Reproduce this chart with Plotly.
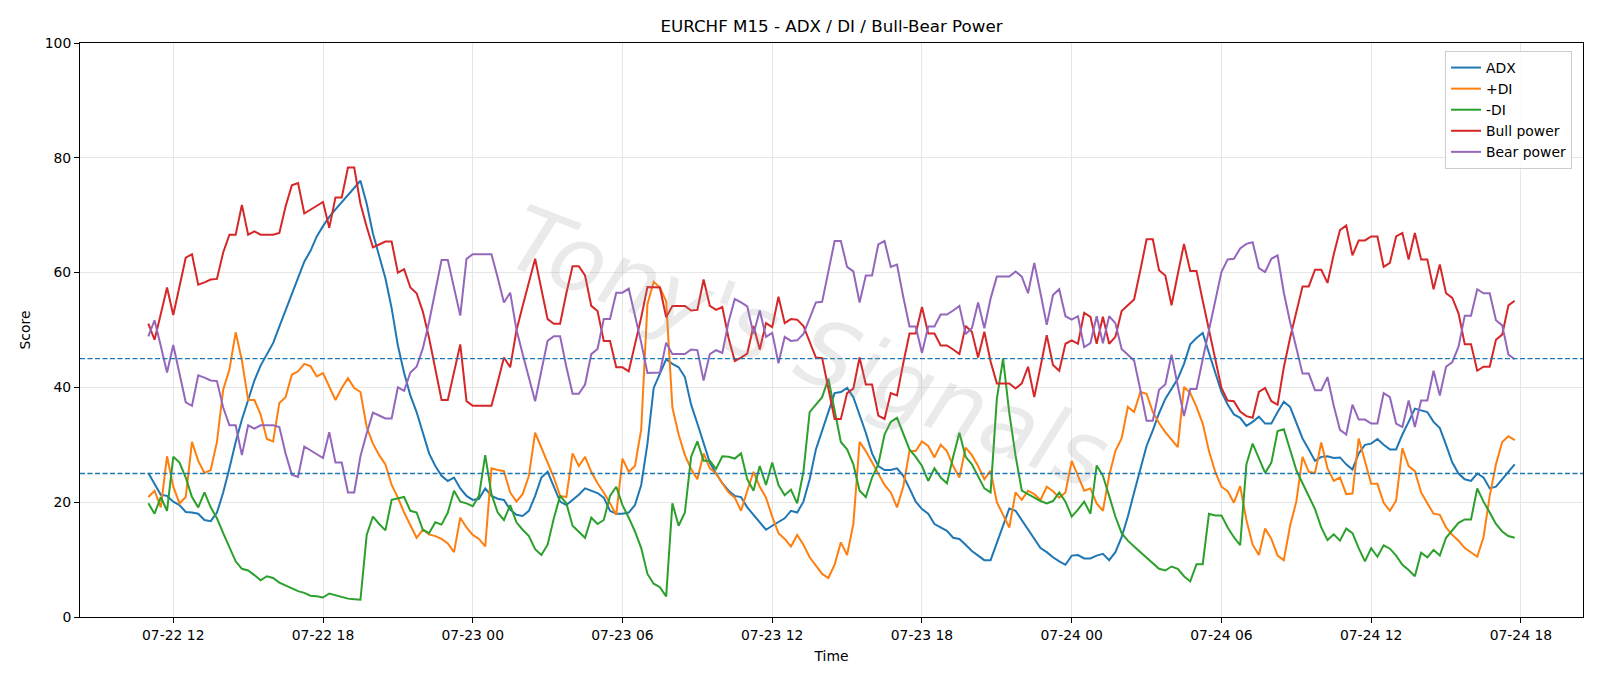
import pandas as pd
import plotly.graph_objects as go

# ---- time axis (M15 bars) ----
START = "2025-07-22 11:00"
N_BARS = 220
times = pd.date_range(START, periods=N_BARS, freq="15min")

# ---- series values ----
adx = [
    25.1, 23.3, 21.3, 21.1, 20.1, 19.5, 18.3, 18.2, 18.0, 16.9, 16.7, 18.2, 21.7, 25.9, 30.5, 34.4, 37.9, 41.2, 43.8, 45.7, 47.7, 50.6, 53.5, 56.4, 59.3, 61.9, 63.8, 66.3,
    68.1, 69.7, 71.0, 72.3, 73.6, 74.9, 76.0, 72.0, 66.8, 62.9, 59.0, 53.8, 47.3, 42.5, 38.6, 35.7, 32.1, 28.5, 26.3, 24.6, 23.7, 24.3, 22.4, 21.1, 20.4, 20.6, 22.4,
    21.1, 20.6, 20.4, 18.7, 17.8, 17.6, 18.5, 21.1, 24.3, 25.3, 22.7, 20.1, 19.5, 20.4, 21.3, 22.4, 22.0, 21.6, 20.8, 18.5, 18.0, 18.0, 18.2, 19.5, 23.0, 30.2, 39.9,
    42.5, 44.9, 44.1, 43.5, 41.8, 37.0, 33.7, 30.2, 26.9, 25.0, 23.3, 22.0, 21.1, 20.9, 19.1, 17.8, 16.5, 15.2, 15.9, 16.5, 17.2, 18.5, 18.2, 20.1, 24.0, 29.2, 32.5,
    35.5, 39.0, 39.2, 39.9, 38.3, 35.3, 32.1, 28.5, 26.3, 25.6, 25.6, 25.9, 24.6, 22.4, 20.1, 18.8, 18.0, 16.2, 15.6, 15.0, 13.8, 13.6, 12.6, 11.5, 10.7, 9.9, 9.9,
    13.0, 15.9, 18.9, 18.5, 16.9, 15.2, 13.6, 12.0, 11.3, 10.4, 9.7, 9.1, 10.7, 10.8, 10.2, 10.2, 10.7, 11.0, 9.9, 11.3, 13.9, 17.5, 21.7, 25.6, 29.8, 32.5, 35.5, 38.0,
    39.8, 41.5, 44.1, 47.5, 48.6, 49.5, 46.0, 42.6, 39.2, 37.0, 35.3, 34.7, 33.3, 34.0, 34.9, 33.7, 33.7, 35.7, 37.5, 36.6, 33.7, 31.1, 29.2, 27.2, 27.9, 28.0, 27.7,
    27.8, 26.6, 25.7, 28.5, 30.0, 30.2, 31.0, 30.0, 29.2, 29.2, 31.8, 34.0, 36.3, 36.0, 35.7, 34.0, 32.9, 30.0, 26.9, 25.0, 24.0, 23.7, 25.0, 24.3, 22.4, 22.7, 24.0, 25.3, 26.6,
]

plus_di = [
    20.9, 22.0, 19.1, 28.0, 22.7, 19.8, 20.9, 30.5, 27.2, 25.1, 25.6, 30.5, 39.6, 43.1, 49.6, 44.7, 37.8, 37.8, 35.3, 31.0, 30.6, 37.3, 38.3, 42.2, 42.8, 44.1, 43.7, 41.9,
    42.5, 40.2, 37.8, 39.9, 41.6, 39.9, 39.2, 33.1, 30.2, 28.2, 26.6, 23.0, 20.8, 18.2, 15.9, 13.8, 15.2, 14.4, 14.1, 13.6, 12.8, 11.3, 17.3, 15.6, 14.3, 13.6, 12.3,
    25.9, 25.6, 25.4, 21.7, 20.1, 21.4, 24.6, 32.1, 29.5, 26.9, 24.3, 21.1, 20.9, 28.5, 26.3, 27.9, 25.3, 23.3, 21.7, 19.8, 17.8, 27.6, 25.3, 26.3, 32.7, 54.5, 58.4,
    57.4, 55.0, 36.5, 31.8, 28.2, 25.8, 24.0, 28.5, 25.9, 25.0, 23.3, 21.7, 20.8, 18.5, 22.0, 25.3, 22.7, 20.8, 17.5, 14.6, 13.6, 12.3, 14.3, 12.6, 10.4, 8.9, 7.5,
    6.8, 9.1, 13.0, 10.8, 16.2, 30.5, 28.9, 26.9, 25.0, 23.0, 21.7, 19.1, 22.7, 28.9, 28.9, 30.6, 29.8, 27.8, 30.0, 28.9, 26.3, 24.3, 29.5, 28.2, 26.3, 24.0, 25.5,
    20.0, 17.8, 15.6, 21.7, 20.4, 22.0, 21.4, 20.4, 22.7, 21.9, 20.8, 21.7, 27.2, 24.6, 22.0, 22.4, 19.8, 18.5, 24.6, 28.9, 31.1, 36.6, 35.7, 39.2, 38.9, 35.7, 33.8, 32.2,
    30.9, 29.6, 40.1, 39.0, 36.6, 33.7, 28.9, 25.3, 22.7, 21.9, 19.9, 22.8, 16.9, 12.6, 10.8, 15.4, 13.6, 10.7, 9.9, 15.9, 20.1, 27.9, 25.3, 25.1, 30.4, 25.9, 23.7,
    24.3, 21.4, 21.5, 31.1, 26.9, 23.2, 23.2, 19.9, 18.5, 20.3, 29.4, 26.3, 25.4, 21.7, 19.8, 18.0, 17.8, 15.6, 14.3, 13.3, 12.0, 11.3, 10.5, 13.9, 21.1, 26.6, 30.5, 31.5, 30.8,
]

minus_di = [
    19.8, 18.0, 20.9, 18.5, 27.9, 26.9, 24.3, 20.9, 19.1, 21.7, 19.1, 17.2, 14.6, 12.0, 9.7, 8.4, 8.1, 7.3, 6.4, 7.1, 6.8, 6.0, 5.5, 4.9, 4.5, 4.2, 3.7, 3.6,
    3.4, 4.1, 3.8, 3.4, 3.2, 3.1, 3.0, 14.3, 17.5, 16.2, 15.1, 20.4, 20.6, 20.9, 18.5, 18.2, 15.2, 14.6, 16.5, 16.1, 18.2, 22.0, 20.1, 19.8, 19.3, 21.1, 28.2,
    21.4, 18.2, 16.9, 19.5, 16.5, 15.2, 14.1, 11.8, 10.8, 12.6, 17.2, 21.1, 19.8, 15.9, 14.8, 13.8, 17.3, 16.2, 16.9, 21.1, 22.7, 19.5, 17.3, 14.9, 12.0, 7.5, 5.8,
    5.2, 3.6, 19.8, 15.9, 18.2, 27.9, 30.6, 27.2, 27.2, 25.8, 28.0, 27.9, 27.6, 28.5, 24.0, 22.0, 26.3, 23.0, 26.9, 23.0, 21.2, 22.2, 19.8, 25.3, 35.7, 37.0, 38.3,
    41.5, 36.3, 30.5, 29.2, 26.6, 22.0, 20.9, 24.3, 26.6, 31.8, 34.0, 34.7, 31.8, 29.2, 27.9, 26.3, 23.7, 25.9, 24.3, 23.3, 27.9, 32.1, 27.9, 26.6, 24.5, 22.4, 21.7,
    38.0, 45.0, 35.5, 28.1, 22.0, 21.4, 20.8, 20.2, 19.8, 20.2, 21.7, 20.1, 17.5, 18.7, 20.1, 18.0, 26.4, 24.6, 21.1, 17.5, 14.6, 13.3, 12.3, 11.3, 10.4, 9.4, 8.4, 8.1,
    8.8, 8.4, 7.1, 6.2, 9.2, 9.2, 18.0, 17.7, 17.7, 15.6, 13.9, 12.5, 26.6, 30.2, 27.6, 25.1, 26.9, 32.4, 32.7, 29.2, 25.6, 23.3, 21.1, 18.8, 15.6, 13.4, 14.4,
    13.3, 15.4, 14.6, 12.0, 9.7, 12.0, 10.5, 12.5, 11.9, 10.7, 9.1, 8.2, 7.1, 11.2, 10.4, 11.7, 10.7, 13.8, 15.2, 16.4, 17.0, 17.0, 22.4, 20.1, 18.2, 16.2, 14.9, 14.1, 13.8,
]

bull_power = [
    51.1, 48.3, 52.8, 57.4, 52.6, 57.6, 62.6, 63.2, 57.9, 58.3, 58.8, 58.9, 63.5, 66.6, 66.6, 71.8, 66.6, 67.2, 66.6, 66.6, 66.6, 66.9, 71.5, 75.2, 75.6, 70.3, 71.0, 71.6,
    72.3, 67.8, 73.1, 73.1, 78.3, 78.3, 72.0, 68.0, 64.4, 64.9, 65.4, 65.4, 60.0, 60.6, 57.4, 56.4, 53.2, 48.6, 43.3, 37.8, 37.8, 42.7, 47.5, 37.6, 36.8, 36.8, 36.8,
    36.8, 40.9, 45.2, 43.5, 49.9, 54.2, 58.4, 62.4, 57.1, 51.9, 51.1, 51.1, 56.4, 61.1, 61.1, 59.5, 54.2, 53.3, 48.1, 48.1, 43.5, 43.5, 42.8, 47.3, 52.2, 57.5, 57.5,
    57.4, 52.2, 54.2, 54.2, 54.2, 53.4, 53.5, 58.8, 54.2, 53.5, 54.0, 48.6, 44.6, 45.2, 45.9, 50.7, 46.6, 51.2, 50.5, 55.8, 51.2, 51.9, 51.8, 50.7, 48.0, 45.2, 45.1,
    39.7, 34.5, 34.5, 39.0, 39.8, 45.2, 40.5, 40.5, 35.1, 34.5, 39.0, 38.6, 44.2, 49.4, 49.4, 54.0, 49.4, 49.4, 47.3, 47.3, 46.6, 45.8, 50.7, 49.7, 45.2, 49.7, 44.5,
    40.7, 40.7, 40.7, 39.8, 40.7, 43.6, 38.3, 43.6, 49.1, 43.9, 42.9, 47.6, 48.2, 47.6, 53.0, 52.3, 47.6, 52.3, 47.6, 48.8, 53.3, 54.3, 55.3, 60.4, 65.8, 65.8, 60.4, 59.5,
    54.3, 59.7, 65.0, 60.3, 60.3, 55.1, 49.9, 44.7, 39.9, 37.7, 37.6, 35.8, 35.0, 34.7, 39.2, 39.9, 37.6, 37.0, 43.5, 48.6, 53.2, 57.6, 57.6, 60.5, 60.5, 58.2, 63.2,
    67.4, 68.2, 63.0, 65.6, 65.6, 66.3, 66.3, 61.0, 61.7, 66.3, 66.9, 62.3, 66.9, 62.3, 62.3, 57.1, 61.4, 56.4, 55.6, 52.9, 47.5, 47.5, 42.9, 43.6, 43.6, 48.3, 49.2, 54.3, 55.1,
]

bear_power = [
    48.9, 51.7, 47.2, 42.6, 47.4, 42.4, 37.4, 36.8, 42.1, 41.7, 41.2, 41.1, 36.5, 33.4, 33.4, 28.2, 33.4, 32.8, 33.4, 33.4, 33.4, 33.1, 28.5, 24.8, 24.4, 29.7, 29.0, 28.4,
    27.7, 32.2, 26.9, 26.9, 21.7, 21.7, 28.0, 32.0, 35.6, 35.1, 34.6, 34.6, 40.0, 39.4, 42.6, 43.6, 46.8, 51.4, 56.7, 62.2, 62.2, 57.3, 52.5, 62.4, 63.2, 63.2, 63.2,
    63.2, 59.1, 54.8, 56.5, 50.1, 45.8, 41.6, 37.6, 42.9, 48.1, 48.9, 48.9, 43.6, 38.9, 38.9, 40.5, 45.8, 46.7, 51.9, 51.9, 56.5, 56.5, 57.2, 52.7, 47.8, 42.5, 42.5,
    42.6, 47.8, 45.8, 45.8, 45.8, 46.6, 46.5, 41.2, 45.8, 46.5, 46.0, 51.4, 55.4, 54.8, 54.1, 49.3, 53.4, 48.8, 49.5, 44.2, 48.8, 48.1, 48.2, 49.3, 52.0, 54.8, 54.9,
    60.3, 65.5, 65.5, 61.0, 60.2, 54.8, 59.5, 59.5, 64.9, 65.5, 61.0, 61.4, 55.8, 50.6, 50.6, 46.0, 50.6, 50.6, 52.7, 52.7, 53.4, 54.2, 49.3, 50.3, 54.8, 50.3, 55.5,
    59.3, 59.3, 59.3, 60.2, 59.3, 56.4, 61.7, 56.4, 50.9, 56.1, 57.1, 52.4, 51.8, 52.4, 47.0, 47.7, 52.4, 47.7, 52.4, 51.2, 46.7, 45.7, 44.7, 39.6, 34.2, 34.2, 39.6, 40.5,
    45.7, 40.3, 35.0, 39.7, 39.7, 44.9, 50.1, 55.3, 60.1, 62.3, 62.4, 64.2, 65.0, 65.3, 60.8, 60.1, 62.4, 63.0, 56.5, 51.4, 46.8, 42.4, 42.4, 39.5, 39.5, 41.8, 36.8,
    32.6, 31.8, 37.0, 34.4, 34.4, 33.7, 33.7, 39.0, 38.3, 33.7, 33.1, 37.7, 33.1, 37.7, 37.7, 42.9, 38.6, 43.6, 44.4, 47.1, 52.5, 52.5, 57.1, 56.4, 56.4, 51.7, 50.8, 45.7, 44.9,
]

series_names = ["ADX", "+DI", "-DI", "Bull power", "Bear power"]
series_colors = ["#1f77b4", "#ff7f0e", "#2ca02c", "#d62728", "#9467bd"]
levels = [45, 25]
y_ticks = [0, 20, 40, 60, 80, 100]

for s in (adx, plus_di, minus_di, bull_power, bear_power):
    assert len(s) == N_BARS, len(s)

FONT = "DejaVu Sans"
fig = go.Figure()
for name, vals, col in zip(series_names, [adx, plus_di, minus_di, bull_power, bear_power], series_colors):
    fig.add_trace(go.Scatter(x=times, y=vals, mode="lines", name=name,
                             line=dict(color=col, width=2)))

for lv in levels:
    fig.add_shape(type="line", xref="paper", x0=0, x1=1, yref="y", y0=lv, y1=lv,
                  line=dict(color="#1f77b4", width=1.3, dash="5px,2.5px"))

fig.add_annotation(text="Tony's Signals", xref="paper", yref="paper", x=0.485, y=0.47,
                   showarrow=False, textangle=21,
                   font=dict(family="DejaVu Sans", size=90, color="rgba(150,150,150,0.20)",
                             style="italic", weight=200))

axis_common = dict(showline=True, linecolor="black", linewidth=1, mirror=True,
                   ticks="outside", ticklen=5, tickcolor="black",
                   showgrid=True, gridcolor="#e6e6e6", gridwidth=1, zeroline=False,
                   tickfont=dict(family=FONT, size=13.9, color="black"))

fig.update_layout(
    width=1600, height=686,
    margin=dict(l=80, r=17, t=43, b=69),
    paper_bgcolor="white", plot_bgcolor="white",
    font=dict(family=FONT, size=13.9, color="black"),
    title=dict(text="EURCHF M15 - ADX / DI / Bull-Bear Power", x=0.5, xref="paper",
               xanchor="center", y=1 - 26 / 686, yref="container", yanchor="middle",
               font=dict(family=FONT, size=16.7, color="black")),
    xaxis=dict(type="date", range=["2025-07-22 08:15:45", "2025-07-24 20:29:15"],
               tick0="2025-07-22 00:00", dtick=6 * 3600 * 1000, tickformat="%m-%d %H",
               title=dict(text="Time", font=dict(family=FONT, size=13.9), standoff=9),
               **axis_common),
    yaxis=dict(range=[0, 100], tickvals=y_ticks,
               title=dict(text="Score", font=dict(family=FONT, size=13.9), standoff=10),
               **axis_common),
    legend=dict(x=0.9927, xanchor="right", y=0.986, yanchor="top",
                bgcolor="rgba(255,255,255,0.85)", bordercolor="#cccccc", borderwidth=1,
                font=dict(family=FONT, size=13.9, color="black"), tracegroupgap=0),
    showlegend=True,
)

fig.write_html("out.html")
